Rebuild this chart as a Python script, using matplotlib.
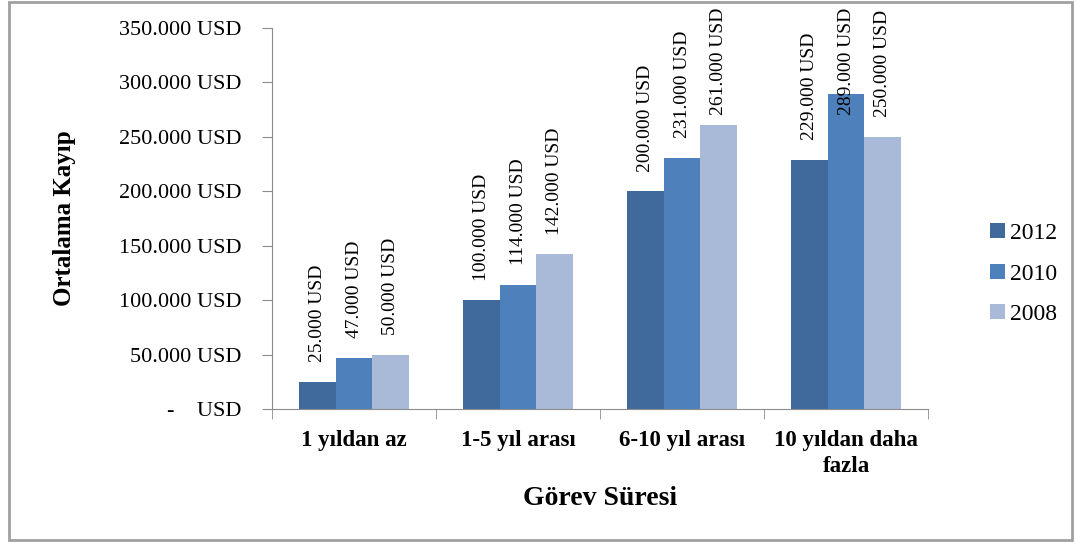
import numpy as np
import matplotlib.pyplot as plt
from matplotlib.patches import Rectangle

# Ortalama kayıp (USD), görev süresine göre
kategoriler = ['1 yıldan az', '1-5 yıl arası', '6-10 yıl arası', '10 yıldan daha\nfazla']
yillar = ['2012', '2010', '2008']
kayip_2012 = [25000, 100000, 200000, 229000]
kayip_2010 = [47000, 114000, 231000, 289000]
kayip_2008 = [50000, 142000, 261000, 250000]
y_ticks = [0, 50000, 100000, 150000, 200000, 250000, 300000, 350000]

renkler = ['#416A9C', '#4E80BC', '#A9B9D8']
seriler = [kayip_2012, kayip_2010, kayip_2008]

plt.rcParams['font.family'] = ['Liberation Serif', 'DejaVu Serif']
DPI = 100


def usd(v):
    if v == 0:
        return '-    USD'
    return f'{v:,.0f}'.replace(',', '.') + ' USD'


fig = plt.figure(figsize=(10.76, 5.44), dpi=DPI)
ax = fig.add_axes([0.2528, 0.2482, 0.6097, 0.7004])

x = np.arange(len(kategoriler))
w = 0.224
etiketler = []
for i, (vals, renk, yil) in enumerate(zip(seriler, renkler, yillar)):
    pos = x + (i - 1) * w
    ax.bar(pos, vals, width=w, color=renk, label=yil, edgecolor='none')
    for px, v in zip(pos, vals):
        t = ax.annotate(usd(v), (px, v), xytext=(0, 14), textcoords='offset points',
                        rotation=90, ha='center', va='bottom', fontsize=14)
        etiketler.append(t)

ax.set_xlim(-0.5, len(kategoriler) - 0.5)
ax.set_ylim(0, 350000)
ax.set_yticks(y_ticks)
ax.set_yticklabels([usd(v) for v in y_ticks], fontsize=16)
ax.set_xticks(x)
ax.set_xticklabels(kategoriler, fontsize=16.5, fontweight='bold', linespacing=1.3)
ax.set_xticks(np.arange(-0.5, len(kategoriler)), minor=True)
ax.tick_params(axis='x', which='major', length=0, pad=15)
ax.tick_params(axis='x', which='minor', length=7, color='#8c8c8c')
ax.tick_params(axis='y', length=7, color='#8c8c8c', pad=15)

for s in ['top', 'right']:
    ax.spines[s].set_visible(False)
for s in ['left', 'bottom']:
    ax.spines[s].set_color('#8c8c8c')

ax.set_ylabel('Ortalama Kayıp', fontsize=18, fontweight='bold', va='center')
ax.yaxis.set_label_coords(-0.317, 0.5)
ax.set_xlabel('Görev Süresi', fontsize=20, fontweight='bold', va='center')
ax.xaxis.set_label_coords(0.5, -0.234)

ax.legend(loc='center left', bbox_to_anchor=(1.077, 0.354), frameon=False,
          fontsize=17, handlelength=0.6, handleheight=0.6, handletextpad=0.25,
          labelspacing=0.82, borderpad=0)

# dış çerçeve
fig.patches.append(Rectangle((0.008, 0.008), 0.988, 0.988, transform=fig.transFigure,
                             fill=False, edgecolor='#a0a0a0', linewidth=2))

# üst kenara taşan değer etiketlerini aşağı kaydır
fig.canvas.draw()
r = fig.canvas.get_renderer()
ust = fig.bbox.height - 8
for t in etiketler:
    bb = t.get_window_extent(r)
    if bb.y1 > ust:
        t.xyann = (0, 14 - (bb.y1 - ust) * 72 / DPI)

fig.savefig('out.png', dpi=DPI)
